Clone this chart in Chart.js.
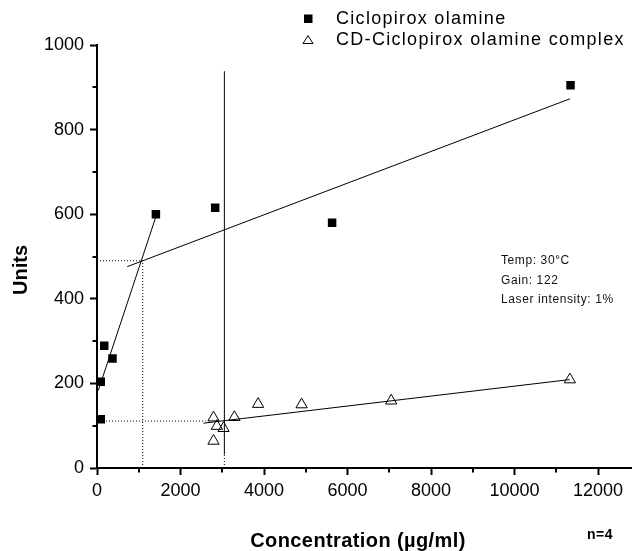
<!DOCTYPE html>
<html><head><meta charset="utf-8">
<script src="https://cdn.jsdelivr.net/npm/chart.js@4.4.1/dist/chart.umd.min.js"></script>
<style>html,body{margin:0;padding:0;background:#fff;}#wrap{width:639px;height:551px;position:relative;}</style>
</head><body><div id="wrap"><canvas id="c"></canvas></div>
<script>
// ---- data ----
const cicloX = [90, 90, 173, 371, 1410, 2830, 5630, 11340];
const cicloY = [115, 204, 289, 259, 600, 615, 580, 905];
const cdX = [2790, 2870, 3030, 2790, 3290, 3858, 4900, 7045, 11324];
const cdY = [119, 99, 94, 64, 120, 151, 150, 159, 209];

const fitSteepX = [30, 1410];   const fitSteepY = [183, 594];
const fitUpperX = [725, 11330]; const fitUpperY = [476, 873];
const fitCdX = [2550, 11320];   const fitCdY = [106, 209];
const refLineX = [3050, 3050];  const refLineY = [32, 938];

const dotAX = [0, 1095];    const dotAY = [490, 490];
const dotBX = [1095, 1095]; const dotBY = [0, 490];
const dotCX = [0, 2600];    const dotCY = [111, 111];
const dotDX = [3050, 3050]; const dotDY = [0, 32];

const xMajor = [0, 2000, 4000, 6000, 8000, 10000, 12000];
const xMinor = [1000, 3000, 5000, 7000, 9000, 11000];
const yMajor = [0, 200, 400, 600, 800, 1000];
const yMinor = [100, 300, 500, 700, 900];

const legendLabels = ['Ciclopirox olamine', 'CD-Ciclopirox olamine complex'];
const notes = ['Temp: 30°C', 'Gain: 122', 'Laser intensity: 1%'];
const xTitle = 'Concentration (µg/ml)';
const yTitle = 'Units';
const nNote = 'n=4';

const FONT = '"Liberation Sans", Arial, Helvetica, sans-serif';
const pts = (xs, ys) => xs.map((x, i) => ({x, y: ys[i]}));

function lineDs(xs, ys, dash) {
  return {type: 'line', data: pts(xs, ys), borderColor: '#000', borderWidth: 1,
    borderDash: dash || [], pointRadius: 0, showLine: true, fill: false, order: 2};
}

const extras = {
  id: 'extras',
  afterDraw(chart) {
    const ctx = chart.ctx, xs = chart.scales.x, ys = chart.scales.y;
    ctx.save();
    // minor ticks
    ctx.strokeStyle = '#000'; ctx.lineWidth = 2;
    ctx.beginPath();
    xMinor.forEach(v => { const p = Math.round(xs.getPixelForValue(v)); ctx.moveTo(p, ys.bottom); ctx.lineTo(p, ys.bottom + 4.5); });
    yMinor.forEach(v => { const p = Math.round(ys.getPixelForValue(v)); ctx.moveTo(xs.left, p); ctx.lineTo(xs.left - 4.5, p); });
    ctx.stroke();
    // legend
    ctx.fillStyle = '#000'; ctx.strokeStyle = '#000'; ctx.lineWidth = 1;
    ctx.fillRect(304, 14.5, 8.5, 8.5);
    ctx.beginPath(); ctx.moveTo(308, 35.5); ctx.lineTo(313, 43.5); ctx.lineTo(303, 43.5); ctx.closePath(); ctx.stroke();
    ctx.font = '18px ' + FONT; ctx.textBaseline = 'middle'; ctx.textAlign = 'left';
    try { ctx.letterSpacing = '1.3px'; } catch (e) {}
    ctx.fillText(legendLabels[0], 336, 19);
    ctx.fillText(legendLabels[1], 336, 40.5);
    // notes
    ctx.font = '12px ' + FONT; ctx.fillStyle = '#111';
    try { ctx.letterSpacing = '0.6px'; } catch (e) {}
    ctx.fillText(notes[0], 501, 261);
    ctx.fillText(notes[1], 501, 280.5);
    ctx.fillText(notes[2], 501, 300);
    // titles
    ctx.fillStyle = '#000';
    try { ctx.letterSpacing = '0.4px'; } catch (e) {}
    ctx.font = 'bold 20px ' + FONT; ctx.textAlign = 'center';
    ctx.fillText(xTitle, 358, 541);
    try { ctx.letterSpacing = '0px'; } catch (e) {}
    ctx.save(); ctx.translate(21, 270); ctx.rotate(-Math.PI / 2);
    ctx.fillText(yTitle, 0, 0); ctx.restore();
    try { ctx.letterSpacing = '0.5px'; } catch (e) {}
    ctx.font = 'bold 14px ' + FONT; ctx.textAlign = 'left';
    ctx.fillText(nNote, 587, 535);
    ctx.restore();
  }
};

new Chart(document.getElementById('c'), {
  type: 'scatter',
  data: {
    datasets: [
      lineDs(fitSteepX, fitSteepY), lineDs(fitUpperX, fitUpperY), lineDs(fitCdX, fitCdY),
      lineDs(refLineX, refLineY),
      lineDs(dotAX, dotAY, [1, 2]), lineDs(dotBX, dotBY, [1, 2]),
      lineDs(dotCX, dotCY, [1, 2]), lineDs(dotDX, dotDY, [1, 2]),
      {label: legendLabels[0], data: pts(cicloX, cicloY), pointStyle: 'rect', pointRadius: 6,
       backgroundColor: '#000', borderColor: '#000', borderWidth: 0, order: 1},
      {label: legendLabels[1], data: pts(cdX, cdY), pointStyle: 'triangle', pointRadius: 6.5,
       backgroundColor: 'rgba(255,255,255,0)', borderColor: '#000', borderWidth: 1, order: 1}
    ]
  },
  options: {
    responsive: true, maintainAspectRatio: false, animation: false,
    devicePixelRatio: 1,
    layout: {padding: {top: 45, right: 1, left: 0, bottom: 0}},
    plugins: {legend: {display: false}, tooltip: {enabled: false}},
    scales: {
      x: {
        type: 'linear', min: 0, max: 12800,
        ticks: {stepSize: 2000, includeBounds: false, color: '#000', padding: 5, maxRotation: 0,
                font: {family: FONT, size: 18}, callback: v => String(v)},
        afterBuildTicks: s => { s.ticks = xMajor.map(v => ({value: v})); },
        afterFit: s => { s.height = 83; },
        grid: {display: true, drawOnChartArea: false, drawTicks: true, tickLength: 7, tickWidth: 2, tickColor: '#000'},
        border: {display: true, color: '#000', width: 2}
      },
      y: {
        type: 'linear', min: 0, max: 1000,
        ticks: {stepSize: 200, color: '#000', padding: 6, font: {family: FONT, size: 18}, callback: v => String(v)},
        afterBuildTicks: s => { s.ticks = yMajor.map(v => ({value: v})); },
        afterFit: s => { s.width = 97; },
        grid: {display: true, drawOnChartArea: false, drawTicks: true, tickLength: 7, tickWidth: 2, tickColor: '#000'},
        border: {display: true, color: '#000', width: 2}
      }
    }
  },
  plugins: [extras]
});
</script></body></html>
